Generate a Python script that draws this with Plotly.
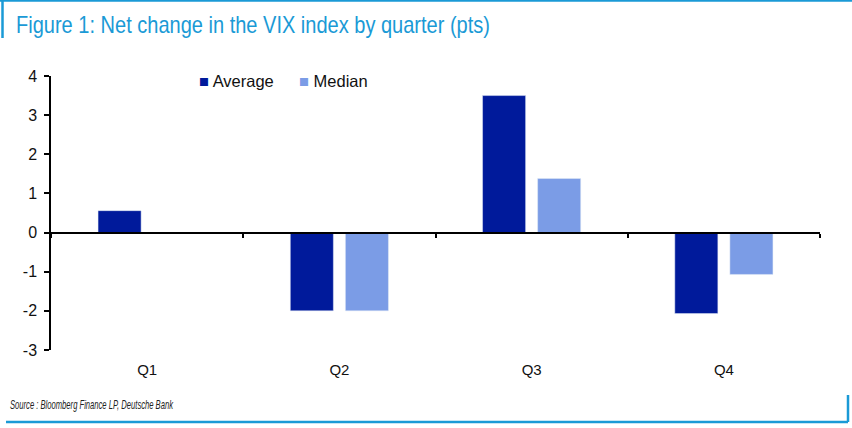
import plotly.graph_objects as go

quarters = ["Q1", "Q2", "Q3", "Q4"]
average = [0.56, -2.0, 3.5, -2.07]
median = [0.0, -2.0, 1.38, -1.07]
y_ticks = [-3, -2, -1, 0, 1, 2, 3, 4]
y_tick_text = [str(v) for v in y_ticks]

AVG_COLOR = "#001A9B"
MED_COLOR = "#7B9CE6"
BLUE = "#1A9AD6"

fig = go.Figure()
fig.add_trace(go.Bar(name="Average", x=quarters, y=average, marker_color=AVG_COLOR))
fig.add_trace(go.Bar(name="Median", x=quarters, y=median, marker_color=MED_COLOR))

W, H = 852, 428
ml, mr, mt, mb = 51, 32, 76, 78
PW, PH = W - ml - mr, H - mt - mb


def px_x(p):
    return (p - ml) / PW


def px_y(p):
    return (H - mb - p) / PH


fig.update_layout(
    width=W, height=H,
    margin=dict(l=ml, r=mr, t=mt, b=mb),
    paper_bgcolor="white", plot_bgcolor="white",
    barmode="group", bargap=0.427, bargroupgap=0.218,
    font=dict(family="Liberation Sans, Arial", color="#111"),
    showlegend=False,
    xaxis=dict(
        type="category", anchor="free", position=3/7,
        showline=True, linecolor="black", linewidth=2,
        ticks="outside", tickson="boundaries", ticklen=4, tickcolor="black", tickwidth=1.5,
        showgrid=False, zeroline=False,
        ticklabelstandoff=123, tickfont=dict(size=15),
    ),
    yaxis=dict(
        range=[-3, 4], tickvals=y_ticks, ticktext=y_tick_text, showgrid=False, zeroline=False,
        showline=True, linecolor="black", linewidth=1.5,
        ticks="outside", ticklen=5, tickcolor="black", tickwidth=1.5,
        tickfont=dict(size=16), ticklabelstandoff=4,
    ),
)

# Title
fig.add_annotation(text="Figure 1: Net change in the VIX index by quarter (pts)",
                   xref="paper", yref="paper", x=px_x(14), y=px_y(24),
                   xanchor="left", yanchor="middle", showarrow=False,
                   font=dict(family="Liberation Sans, Arial", size=24, color=BLUE))
# Source
fig.add_annotation(text="<i>Source : Bloomberg Finance LP, Deutsche Bank</i>",
                   xref="paper", yref="paper", x=px_x(8), y=px_y(404),
                   xanchor="left", yanchor="middle", showarrow=False,
                   font=dict(family="Liberation Sans, Arial", size=13, color="#222"))

# Legend entries
for name, color, xpos in [("Average", AVG_COLOR, 197), ("Median", MED_COLOR, 297)]:
    fig.add_annotation(text=f"<span style='color:{color}'>■</span> {name}",
                       xref="paper", yref="paper", x=px_x(xpos), y=px_y(81),
                       xanchor="left", yanchor="middle", showarrow=False,
                       font=dict(family="Liberation Sans, Arial", size=16.5, color="#111"))

frame = [
    (0, 0.5, W, 0.5),      # top border
    (2.5, 0, 2.5, 38),     # left title bar
    (6, 422, 848, 422),    # bottom line
    (848, 395, 848, 422),  # right bottom bar
]
for x0, y0, x1, y1 in frame:
    fig.add_shape(type="line", xref="paper", yref="paper",
                  x0=px_x(x0), y0=px_y(y0), x1=px_x(x1), y1=px_y(y1),
                  line=dict(color=BLUE, width=2.5))

# condense title and source text to the narrow look of the original, keeping left edge
post = """
var gd = document.getElementById('{plot_id}');
var t = gd.querySelectorAll('g.annotation text.annotation-text');
function condense(el, len) {
  var bb = el.getBBox();
  el.setAttribute('text-anchor', 'start');
  el.style.textAnchor = 'start';
  el.setAttribute('x', bb.x);
  el.setAttribute('textLength', len);
  el.setAttribute('lengthAdjust', 'spacingAndGlyphs');
}
if (t.length > 1) {
  condense(t[0], 474);
  condense(t[1], 163);
}
"""

fig.write_html("out.html", post_script=post)
